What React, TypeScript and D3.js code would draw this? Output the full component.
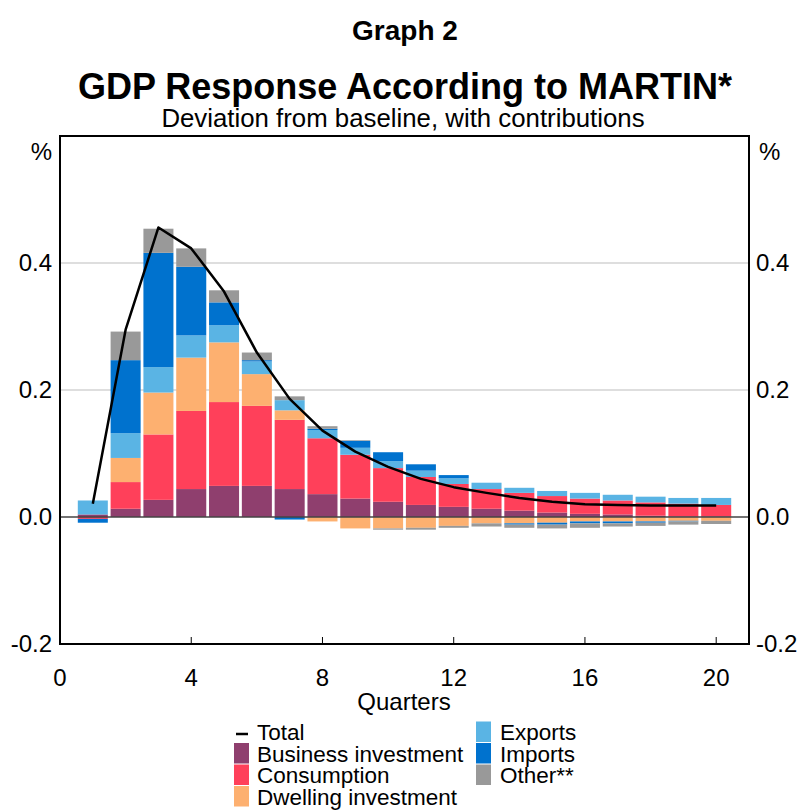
import * as d3 from "d3";

const quarters = d3.range(1, 21);
const business = [0.004, 0.013, 0.027, 0.044, 0.049, 0.049, 0.044, 0.036, 0.029, 0.024, 0.019, 0.016, 0.013, 0.010, 0.007, 0.005, 0.004, 0.002, 0.001, 0.001];
const consumption = [-0.003, 0.042, 0.103, 0.123, 0.132, 0.126, 0.109, 0.088, 0.069, 0.053, 0.044, 0.036, 0.031, 0.028, 0.026, 0.024, 0.022, 0.021, 0.020, 0.018];
const dwelling = [0, 0.038, 0.066, 0.084, 0.094, 0.050, 0.015, -0.007, -0.018, -0.018, -0.017, -0.014, -0.010, -0.010, -0.009, -0.007, -0.007, -0.007, -0.006, -0.006];
const exportsC = [0.022, 0.039, 0.040, 0.035, 0.027, 0.020, 0.016, 0.013, 0.011, 0.011, 0.010, 0.009, 0.010, 0.008, 0.008, 0.009, 0.009, 0.009, 0.009, 0.011];
const imports = [-0.006, 0.115, 0.180, 0.108, 0.036, 0.002, -0.004, 0.002, 0.011, 0.014, 0.010, 0.005, 0, -0.002, -0.003, -0.003, -0.003, -0.002, -0.001, 0];
const other = [0, 0.045, 0.038, 0.029, 0.019, 0.012, 0.006, 0.004, 0.001, -0.002, -0.003, -0.003, -0.005, -0.005, -0.006, -0.007, -0.005, -0.005, -0.005, -0.005];
const total = [0.021, 0.295, 0.456, 0.423, 0.355, 0.259, 0.186, 0.136, 0.103, 0.079, 0.060, 0.047, 0.038, 0.030, 0.024, 0.020, 0.019, 0.018, 0.018, 0.018];

const seriesKeys = ["Business investment", "Consumption", "Dwelling investment", "Exports", "Imports", "Other**"];
const seriesValues = [business, consumption, dwelling, exportsC, imports, other];
const colors = ["#8F3F6E", "#FF405A", "#FDB070", "#5AB4E4", "#0072CE", "#999999"];

const yTicks = [-0.2, 0, 0.2, 0.4];
const xTicks = [0, 4, 8, 12, 16, 20];

const W = 802;
const H = 810;
const M = { left: 60, right: 749, top: 136, bottom: 644 };
const FONT = "Liberation Sans, Arial, sans-serif";

export default function App() {
  const x = d3.scaleLinear().domain([0, 21]).range([M.left, M.right]);
  const y = d3.scaleLinear().domain([-0.2, 0.6]).range([M.bottom, M.top]);

  const rows = quarters.map((q, i) => {
    const r: Record<string, number> = { q };
    seriesKeys.forEach((k, j) => (r[k] = seriesValues[j][i]));
    return r;
  });
  const stacked = d3.stack<Record<string, number>>().keys(seriesKeys).offset(d3.stackOffsetDiverging)(rows);

  const barW = (x(1) - x(0)) * 0.915;
  const line = d3
    .line<number>()
    .x((_, i) => x(quarters[i]))
    .y((d) => y(d));

  const legendLeft = [
    { label: "Business investment", color: colors[0] },
    { label: "Consumption", color: colors[1] },
    { label: "Dwelling investment", color: colors[2] },
  ];
  const legendRight = [
    { label: "Exports", color: colors[3] },
    { label: "Imports", color: colors[4] },
    { label: "Other**", color: colors[5] },
  ];
  const rowH = 21.5;

  return (
    <svg width={W} height={H} style={{ position: "absolute", left: 0, top: 0 }} fontFamily={FONT}>
      <rect width={W} height={H} fill="#fff" />
      <text x={405} y={40} textAnchor="middle" fontSize={28} fontWeight="bold">Graph 2</text>
      <text x={405} y={99} textAnchor="middle" fontSize={36} fontWeight="bold">GDP Response According to MARTIN*</text>
      <text x={403} y={127} textAnchor="middle" fontSize={25.8}>Deviation from baseline, with contributions</text>

      {/* gridlines */}
      {yTicks.filter((t) => t > 0).map((t) => (
        <line key={t} x1={M.left} x2={M.right} y1={y(t)} y2={y(t)} stroke="#bdbdbd" strokeWidth={1} />
      ))}

      {/* bars */}
      {stacked.map((s, j) => (
        <g key={s.key} fill={colors[j]}>
          {s.map((d, i) => {
            const y0 = y(d[0]);
            const y1 = y(d[1]);
            return (
              <rect key={i} x={x(quarters[i]) - barW / 2} width={barW} y={Math.min(y0, y1)} height={Math.abs(y0 - y1)} />
            );
          })}
        </g>
      ))}

      <line x1={M.left} x2={M.right} y1={y(0)} y2={y(0)} stroke="#444" strokeWidth={1.5} />

      <path d={line(total) || ""} fill="none" stroke="#000" strokeWidth={2.5} strokeLinejoin="round" />

      {/* frame */}
      <rect x={M.left} y={M.top} width={M.right - M.left} height={M.bottom - M.top} fill="none" stroke="#000" strokeWidth={2} />

      {xTicks.filter((t) => t > 0).map((t) => (
        <line key={t} x1={x(t)} x2={x(t)} y1={M.bottom} y2={M.bottom - 7} stroke="#000" strokeWidth={1} />
      ))}

      {yTicks.map((t) => (
        <g key={t} fontSize={24}>
          <text x={M.left - 8} y={y(t)} dy="0.35em" textAnchor="end">{t.toFixed(1)}</text>
          <text x={M.right + 7} y={y(t)} dy="0.35em">{t.toFixed(1)}</text>
        </g>
      ))}
      <text x={52} y={160} textAnchor="end" fontSize={24}>%</text>
      <text x={759} y={160} fontSize={24}>%</text>

      {xTicks.map((t) => (
        <text key={t} x={x(t)} y={686} textAnchor="middle" fontSize={24}>{t}</text>
      ))}
      <text x={404} y={710} textAnchor="middle" fontSize={24}>Quarters</text>

      {/* legend */}
      <g fontSize={22.5}>
        <line x1={236} x2={248} y1={734} y2={734} stroke="#000" strokeWidth={2.5} />
        <text x={257} y={740}>Total</text>
        {legendLeft.map((d, i) => (
          <g key={d.label}>
            <rect x={234} y={743 + i * rowH} width={15} height={20.5} fill={d.color} />
            <text x={257} y={761.5 + i * rowH}>{d.label}</text>
          </g>
        ))}
        {legendRight.map((d, i) => (
          <g key={d.label}>
            <rect x={476} y={721.5 + i * rowH} width={15} height={20.5} fill={d.color} />
            <text x={500} y={740 + i * rowH}>{d.label}</text>
          </g>
        ))}
      </g>
    </svg>
  );
}
